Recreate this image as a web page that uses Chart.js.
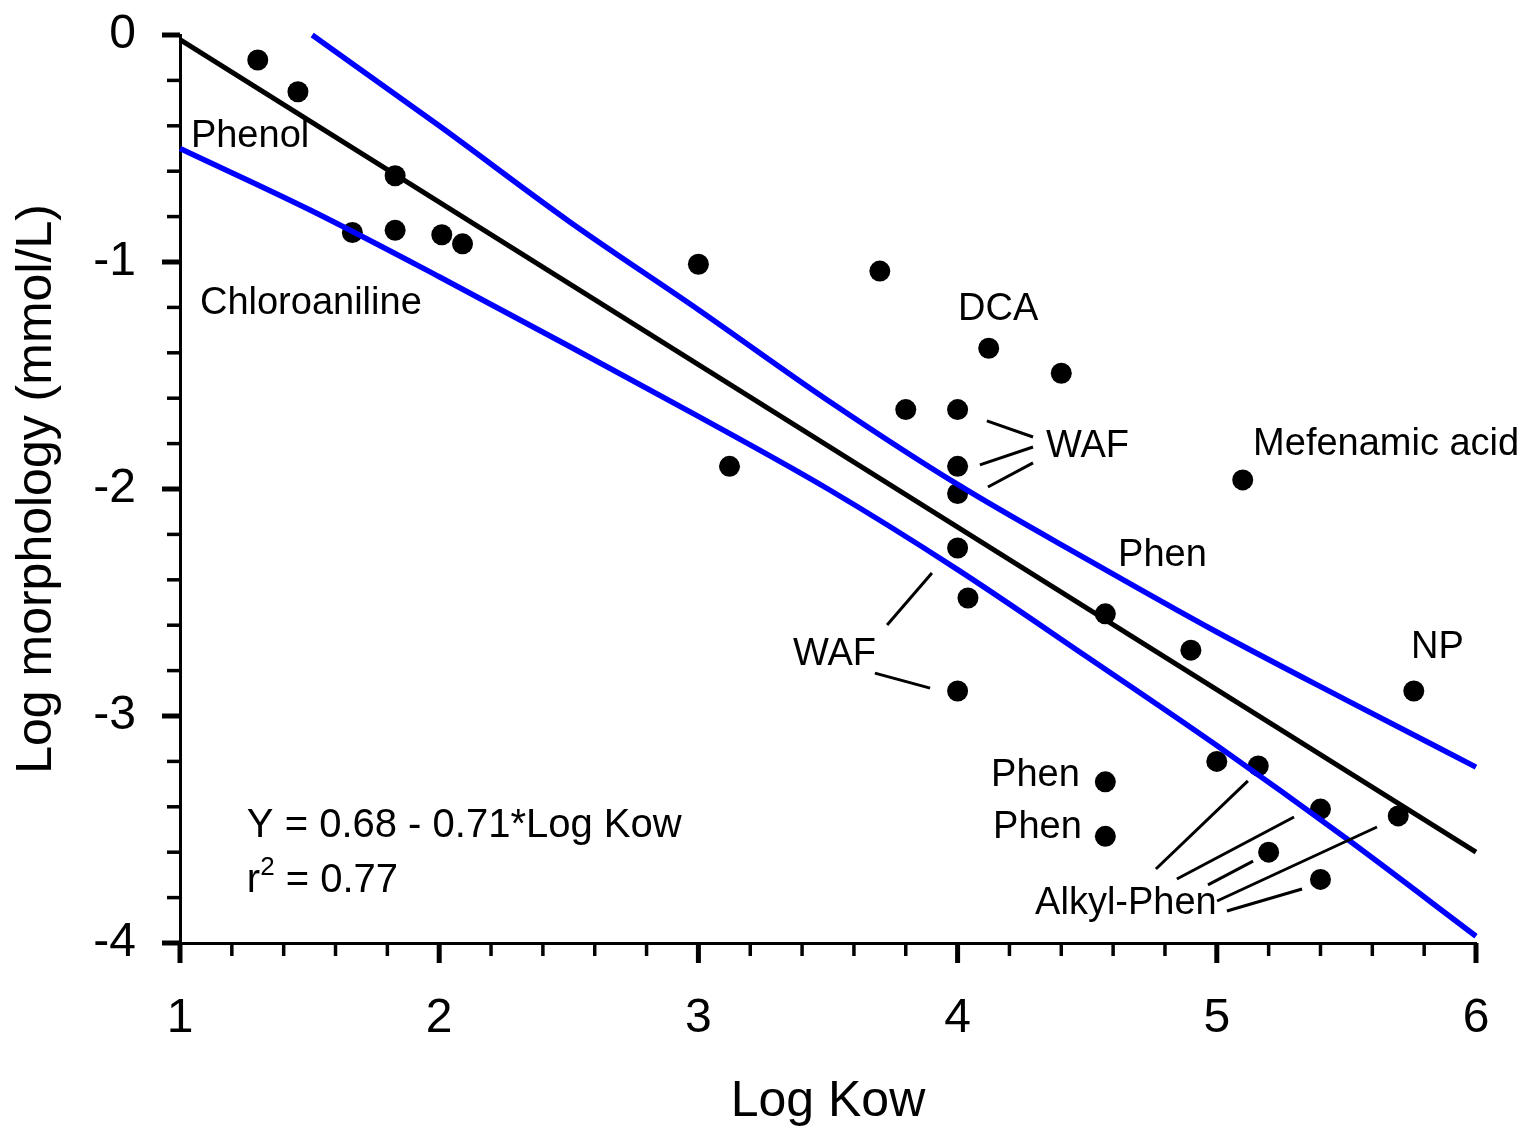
<!DOCTYPE html>
<html>
<head>
<meta charset="utf-8">
<script src="https://cdn.jsdelivr.net/npm/chart.js@4/dist/chart.umd.min.js"></script>
<style>
  html, body { margin: 0; padding: 0; background: #fff; }
  #wrap { width: 1525px; height: 1129px; }
</style>
</head>
<body>
<div id="wrap"><canvas id="kowChart" width="1525" height="1129"></canvas></div>
<script>
// measured compounds: log Kow vs log morphology effect concentration
const logKow = [1.30, 1.455, 1.83, 1.665, 1.83, 2.01, 2.09, 3.00, 3.12, 3.70,
                4.12, 4.40, 3.80, 4.00, 4.00, 4.00, 4.00, 4.04, 4.00, 4.57,
                4.90, 5.10, 5.76, 4.57, 4.57, 5.00, 5.16, 5.40, 5.20, 5.40, 5.70];
const logMorph = [-0.11, -0.25, -0.62, -0.87, -0.86, -0.88, -0.92, -1.01, -1.90, -1.04,
                  -1.38, -1.49, -1.65, -1.65, -1.90, -2.02, -2.26, -2.48, -2.89, -2.55,
                  -2.71, -1.96, -2.89, -3.29, -3.53, -3.20, -3.22, -3.41, -3.60, -3.72, -3.44];

// regression line end points
const fitX = [1, 6];
const fitY = [-0.02, -3.60];
// curved band either side of the fit
const upperX = [1.51, 2, 2.5, 3, 3.5, 4, 4.5, 5, 5.5, 6];
const upperY = [0.0, -0.40, -0.82, -1.21, -1.61, -1.98, -2.31, -2.63, -2.93, -3.225];
const lowerX = [1, 1.5, 2, 2.5, 3, 3.5, 4, 4.5, 5, 5.5, 6];
const lowerY = [-0.50, -0.77, -1.065, -1.37, -1.68, -2.00, -2.355, -2.74, -3.13, -3.54, -3.97];

// labelled ticks
const xTickValues = [1, 2, 3, 4, 5, 6];
const xTickLabels = ['1', '2', '3', '4', '5', '6'];
const yTickValues = [0, -1, -2, -3, -4];
const yTickLabels = ['0', '-1', '-2', '-3', '-4'];

// compound names, anchored in axis units (left edge, middle)
const notes = [
  { text: 'Phenol', x: 1.042, y: -0.449 },
  { text: 'Chloroaniline', x: 1.077, y: -1.181 },
  { text: 'DCA', x: 4.002, y: -1.211 },
  { text: 'WAF', x: 4.341, y: -1.811 },
  { text: 'Mefenamic acid', x: 5.140, y: -1.802 },
  { text: 'Phen', x: 4.619, y: -2.295 },
  { text: 'WAF', x: 3.365, y: -2.731 },
  { text: 'NP', x: 5.749, y: -2.700 },
  { text: 'Phen', x: 4.129, y: -3.264 },
  { text: 'Phen', x: 4.137, y: -3.493 },
  { text: 'Alkyl-Phen', x: 4.299, y: -3.824 }
];

// leader lines from names to points [x1, y1, x2, y2]
const leaders = [
  [4.113, -1.700, 4.291, -1.771],
  [4.086, -1.894, 4.291, -1.815],
  [4.117, -1.991, 4.291, -1.885],
  [3.901, -2.370, 3.728, -2.599],
  [3.681, -2.811, 3.894, -2.877],
  [5.120, -3.286, 4.765, -3.674],
  [5.298, -3.445, 4.846, -3.718],
  [5.140, -3.639, 4.966, -3.744],
  [5.618, -3.489, 5.001, -3.815],
  [5.329, -3.762, 5.039, -3.859]
];

const FONT = '"Liberation Sans", Arial, sans-serif';

function pairs(xs, ys) {
  return xs.map(function(x, i) { return { x: x, y: ys[i] }; });
}

function tickLabel(values, labels) {
  return function(v) {
    for (let i = 0; i < values.length; i++) {
      if (Math.abs(v - values[i]) < 1e-6) return labels[i];
    }
    return '';
  };
}

function isMajor(v) {
  return Math.abs(v - Math.round(v)) < 1e-6;
}

// fixed axis box sizes, no extra room for overhanging labels
function fixBox(size) {
  return function(scale) {
    if (scale.isHorizontal()) scale.height = size; else scale.width = size;
    scale.paddingTop = 0;
    scale.paddingBottom = 0;
    scale.paddingLeft = 0;
    scale.paddingRight = 0;
  };
}

// tick marks, leader lines and text
const decorations = {
  id: 'decorations',
  afterDraw(chart) {
    const ctx = chart.ctx;
    const xs = chart.scales.x;
    const ys = chart.scales.y;
    ctx.save();
    ctx.strokeStyle = '#000';
    ctx.lineCap = 'butt';

    ys.ticks.forEach(function(t) {
      const py = ys.getPixelForValue(t.value);
      const major = isMajor(t.value);
      ctx.lineWidth = major ? 5 : 3.5;
      ctx.beginPath();
      ctx.moveTo(ys.right, py);
      ctx.lineTo(ys.right - (major ? 18 : 13), py);
      ctx.stroke();
    });
    xs.ticks.forEach(function(t) {
      const px = xs.getPixelForValue(t.value);
      const major = isMajor(t.value);
      ctx.lineWidth = major ? 5 : 3.5;
      ctx.beginPath();
      ctx.moveTo(px, xs.top);
      ctx.lineTo(px, xs.top + (major ? 20 : 13));
      ctx.stroke();
    });

    ctx.lineWidth = 3;
    leaders.forEach(function(l) {
      ctx.beginPath();
      ctx.moveTo(xs.getPixelForValue(l[0]), ys.getPixelForValue(l[1]));
      ctx.lineTo(xs.getPixelForValue(l[2]), ys.getPixelForValue(l[3]));
      ctx.stroke();
    });

    ctx.fillStyle = '#000';
    ctx.textBaseline = 'middle';
    ctx.textAlign = 'left';
    ctx.font = '38px ' + FONT;
    notes.forEach(function(n) {
      ctx.fillText(n.text, xs.getPixelForValue(n.x), ys.getPixelForValue(n.y));
    });

    // regression equation
    const ex = xs.getPixelForValue(1.258);
    ctx.font = '40px ' + FONT;
    ctx.fillText('Y = 0.68 - 0.71*Log Kow', ex, ys.getPixelForValue(-3.485));
    const ry = ys.getPixelForValue(-3.727);
    ctx.fillText('r', ex, ry);
    const rw = ctx.measureText('r').width;
    ctx.font = '26px ' + FONT;
    ctx.fillText('2', ex + rw, ry - 13);
    const sw = ctx.measureText('2').width;
    ctx.font = '40px ' + FONT;
    ctx.fillText(' = 0.77', ex + rw + sw, ry);
    ctx.restore();
  }
};

const ctx = document.getElementById('kowChart').getContext('2d');
const config = {
  type: 'scatter',
  data: {
    datasets: [
      {
        label: 'fit',
        data: pairs(fitX, fitY),
        showLine: true,
        borderColor: '#000',
        borderWidth: 5,
        pointRadius: 0,
        clip: false
      },
      {
        label: 'upper',
        data: pairs(upperX, upperY),
        showLine: true,
        cubicInterpolationMode: 'monotone',
        borderColor: '#0000ff',
        borderWidth: 5.5,
        pointRadius: 0,
        clip: false
      },
      {
        label: 'lower',
        data: pairs(lowerX, lowerY),
        showLine: true,
        cubicInterpolationMode: 'monotone',
        borderColor: '#0000ff',
        borderWidth: 5.5,
        pointRadius: 0,
        clip: false
      },
      {
        label: 'compounds',
        data: pairs(logKow, logMorph),
        pointRadius: 10.5,
        pointBackgroundColor: '#000',
        pointBorderWidth: 0,
        clip: false
      }
    ]
  },
  options: {
    responsive: false,
    animation: false,
    layout: { padding: { top: 35, right: 49, bottom: 0, left: 0 } },
    plugins: { legend: { display: false }, tooltip: { enabled: false } },
    scales: {
      x: {
        type: 'linear',
        min: 1,
        max: 6,
        afterFit: fixBox(186),
        grid: { display: false, drawTicks: false },
        border: { display: true, color: '#000', width: 3 },
        ticks: {
          stepSize: 0.2,
          autoSkip: false,
          maxRotation: 0,
          padding: 47,
          color: '#000',
          font: { family: FONT, size: 48 },
          callback: tickLabel(xTickValues, xTickLabels)
        },
        title: {
          display: true,
          text: 'Log Kow',
          color: '#000',
          font: { family: FONT, size: 50, lineHeight: 1 },
          padding: { top: 0, bottom: 1.5 }
        }
      },
      y: {
        type: 'linear',
        min: -4,
        max: 0,
        afterFit: fixBox(180),
        grid: { display: false, drawTicks: false },
        border: { display: true, color: '#000', width: 3 },
        ticks: {
          stepSize: 0.2,
          autoSkip: false,
          padding: 44,
          color: '#000',
          font: { family: FONT, size: 48 },
          callback: tickLabel(yTickValues, yTickLabels)
        },
        title: {
          display: true,
          text: 'Log morphology (mmol/L)',
          color: '#000',
          font: { family: FONT, size: 50, lineHeight: 1 },
          padding: { top: 12.5, bottom: 0 }
        }
      }
    }
  },
  plugins: [decorations]
};

const chart = new Chart(ctx, config);
</script>
</body>
</html>
